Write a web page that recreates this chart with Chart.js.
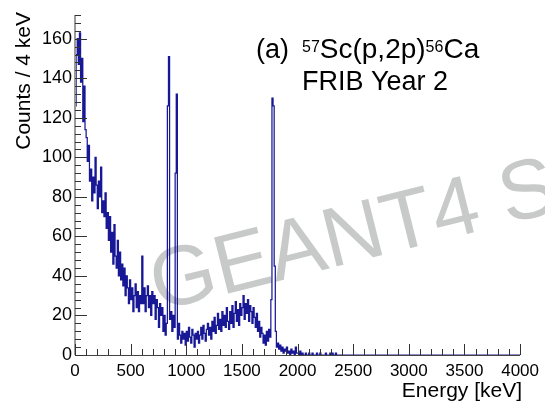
<!DOCTYPE html>
<html lang="en">
<head>
<meta charset="UTF-8">
<title>57Sc(p,2p)56Ca gamma spectrum</title>
<script src="https://cdn.jsdelivr.net/npm/chart.js"></script>
<style>
  html, body { margin: 0; padding: 0; background: #fff; }
  canvas { display: block; }
</style>
</head>
<body>
<canvas id="spec" width="545" height="403"></canvas>
<script>
// histogram in 10 keV steps (values are counts / 4 keV)
const binWidth = 10;
const counts = [
  126, 152, 160, 147, 163, 138, 150, 118, 136, 114,   // 0 - 100
  110,  98, 106,  88,  94,  78,  90,  82, 100,  86,   // 100 - 200
   74,  88,  80,  95,  72,  78,  70,  82,  64,  72,   // 200 - 300
   58,  70,  52,  62,  46,  66,  50,  44,  58,  40,   // 300 - 400
   52,  38,  46,  35,  44,  30,  40,  34,  26,  38,   // 400 - 500
   28,  34,  22,  30,  36,  24,  32,  22,  30,  26,   // 500 - 600
   50,  26,  34,  22,  30,  35,  24,  30,  20,  32,   // 600 - 700
   26,  30,  18,  28,  24,  14,  26,  20,  24,  12,   // 700 - 800
   20,  10,  16, 126, 151,  18,  22,  12,  20,  14,   // 800 - 900
   92, 132,   8,  16,  10,   6,  12,   8,  11,   5,   // 900 - 1000
   12,   7,  14,   9,   6,  13,  10,   4,  11,   8,   // 1000 - 1100
   12,   6,  10,  14,   8,  15,  11,   7,  13,  16,   // 1100 - 1200
   10,  14,   8,  17,  12,  19,  11,  15,  21,  13,   // 1200 - 1300
   18,  12,  22,  15,  20,  14,  24,  17,  13,  22,   // 1300 - 1400
   16,  25,  14,  21,  27,  17,  23,  15,  26,  20,   // 1400 - 1500
   24,  30,  18,  26,  21,  28,  17,  25,  22,  16,   // 1500 - 1600
   24,  19,  14,  21,  12,  17,   9,  14,  11,   6,   // 1600 - 1700
   10,   5,  12,   7,  13,   9,  28, 130, 126,  45,   // 1700 - 1800
   12,   4,   6,   3,   5,   2,   4,   1,   3,   2,   // 1800 - 1900
    4,   1,   2,   0,   3,   1,   2,   0,   4,   1,   // 1900 - 2000
    1,   0,   2,   0,   1,   0,   0,   1,   0,   0,   // 2000 - 2100
    1,   0,   0,   1,   0,   0,   0,   1,   0,   0,   // 2100 - 2200
    1,   0,   0,   0,   0,   1,   0,   0,   0,   1,   // 2200 - 2300
    0,   1,   0,   0,   1,   0                        // 2300 - 2360
];
const xTicks = [0, 500, 1000, 1500, 2000, 2500, 3000, 3500, 4000];
const yTicks = [0, 20, 40, 60, 80, 100, 120, 140, 160];
const xMax = 4000, yMax = 172;
const xMinor = 100, yMinor = 4;

const points = counts.map((c, i) => ({ x: i * binWidth, y: c }));
points.push({ x: counts.length * binWidth, y: 0 });
points.push({ x: xMax, y: 0 });

const FONT = "'Liberation Sans', Arial, Helvetica, sans-serif";

// ROOT-like frame: axis lines + inner ticks, titles, watermark
const rootStyle = {
  id: 'rootStyle',
  beforeDatasetsDraw(chart) {
    const ctx = chart.ctx;
    ctx.save();
    ctx.translate(158, 311);
    ctx.rotate(-14 * Math.PI / 180);
    ctx.font = `84px ${FONT}`;
    ctx.fillStyle = '#c8c9c9';
    ctx.textBaseline = 'alphabetic';
    ctx.fillText('GEANT4 Simulation', 0, 0);
    ctx.restore();
  },
  afterDatasetsDraw(chart) {
    const { ctx, chartArea: a, scales: { x, y } } = chart;
    ctx.save();
    // axis lines
    ctx.strokeStyle = '#9a9a9a';
    ctx.lineWidth = 2;
    ctx.beginPath(); ctx.moveTo(a.left, a.top); ctx.lineTo(a.left, a.bottom); ctx.stroke();
    ctx.strokeStyle = '#444';
    ctx.lineWidth = 1;
    ctx.beginPath(); ctx.moveTo(a.left, a.bottom + 0.5); ctx.lineTo(a.right, a.bottom + 0.5); ctx.stroke();

    // ticks
    ctx.strokeStyle = '#333';
    ctx.lineWidth = 1;
    ctx.beginPath();
    for (let v = 0; v <= yMax; v += yMinor) {
      const py = Math.round(y.getPixelForValue(v)) + 0.5;
      const len = v % 20 === 0 ? 12 : 6;
      ctx.moveTo(a.left, py); ctx.lineTo(a.left + len, py);
    }
    for (let v = 0; v <= xMax; v += xMinor) {
      const px = Math.round(x.getPixelForValue(v)) + 0.5;
      const len = v % 500 === 0 ? 11 : 6;
      ctx.moveTo(px, a.bottom); ctx.lineTo(px, a.bottom - len);
    }
    ctx.stroke();

    // axis titles
    ctx.fillStyle = '#000';
    ctx.font = `21px ${FONT}`;
    ctx.textAlign = 'right';
    ctx.textBaseline = 'alphabetic';
    ctx.fillText('Energy [keV]', 522, 397);

    ctx.save();
    ctx.translate(30, 12);
    ctx.rotate(-Math.PI / 2);
    ctx.textAlign = 'right';
    ctx.fillText('Counts / 4 keV', 0, 0);
    ctx.restore();

    // reaction label
    ctx.textAlign = 'left';
    ctx.font = `27px ${FONT}`;
    ctx.fillText('(a)', 256, 58);
    let cx = 302;
    const parts = [['57', true], ['Sc(p,2p)', false], ['56', true], ['Ca', false]];
    parts.forEach(([t, sup]) => {
      ctx.font = sup ? `16px ${FONT}` : `28px ${FONT}`;
      ctx.fillText(t, cx, sup ? 52 : 58);
      cx += ctx.measureText(t).width;
    });
    ctx.font = `27px ${FONT}`;
    ctx.fillText('FRIB Year 2', 302, 90);
    ctx.restore();
  }
};

new Chart(document.getElementById('spec'), {
  type: 'line',
  data: {
    datasets: [{
      data: points,
      stepped: true,
      borderColor: 'rgb(24, 24, 150)',
      borderWidth: 1.25,
      pointRadius: 0,
      fill: false
    }]
  },
  options: {
    responsive: false,
    animation: false,
    events: [],
    layout: { padding: { top: 15, right: 24, left: 0, bottom: 0 } },
    plugins: { legend: { display: false }, tooltip: { enabled: false } },
    scales: {
      x: {
        type: 'linear', min: 0, max: xMax,
        grid: { display: false, drawTicks: false },
        border: { display: false },
        ticks: { color: '#000', font: { size: 17, family: FONT }, padding: 6, maxRotation: 0, autoSkip: false,
                 callback: v => String(v) },
        afterBuildTicks: s => { s.ticks = xTicks.map(v => ({ value: v })); },
        afterFit: s => { s.height = 48; }
      },
      y: {
        type: 'linear', min: 0, max: yMax,
        grid: { display: false, drawTicks: false },
        border: { display: false },
        ticks: { color: '#000', font: { size: 18, family: FONT }, padding: 3, autoSkip: false,
                 callback: v => String(v) },
        afterBuildTicks: s => { s.ticks = yTicks.map(v => ({ value: v })); },
        afterFit: s => { s.width = 75; }
      }
    }
  },
  plugins: [rootStyle]
});
</script>
</body>
</html>
